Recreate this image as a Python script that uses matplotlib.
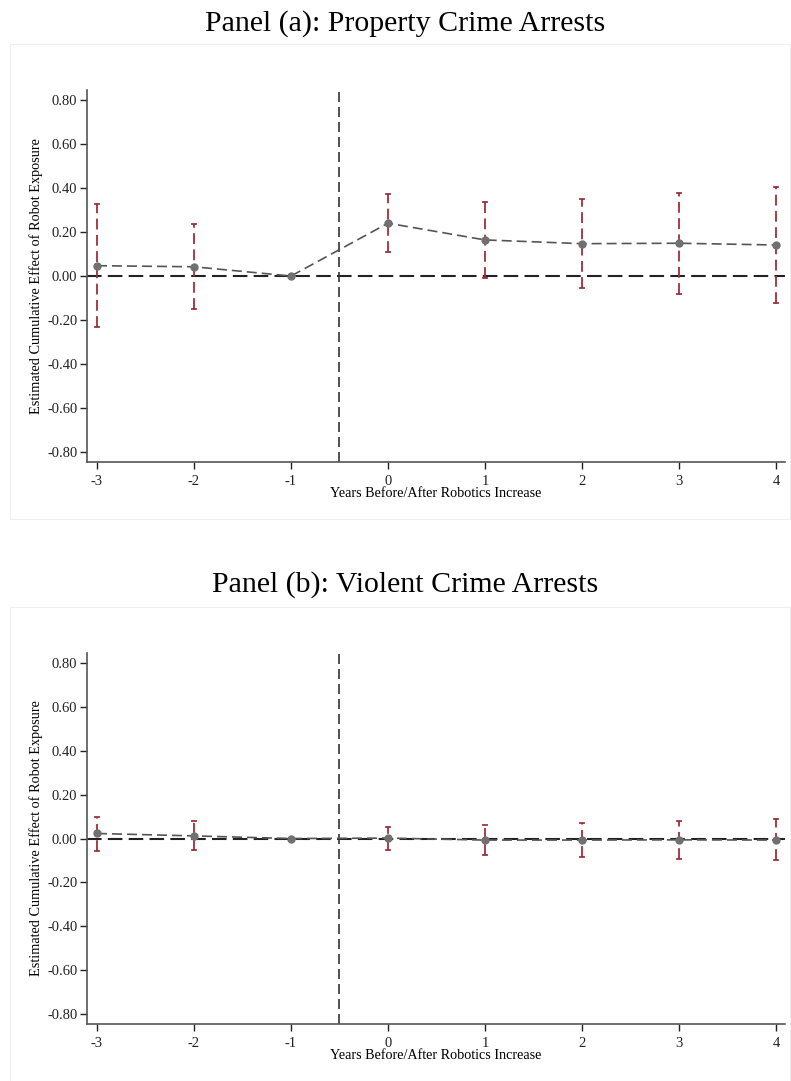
import matplotlib.pyplot as plt
from matplotlib.patches import Rectangle

# event time
years = [-3, -2, -1, 0, 1, 2, 3, 4]

# Panel (a): property crime arrests
prop_coef = [0.047, 0.042, 0.0, 0.240, 0.164, 0.147, 0.149, 0.141]
prop_lo = [-0.230, -0.150, 0.0, 0.108, -0.011, -0.053, -0.083, -0.121]
prop_hi = [0.326, 0.238, 0.0, 0.374, 0.338, 0.349, 0.379, 0.406]

# Panel (b): violent crime arrests
viol_coef = [0.023, 0.012, 0.0, 0.002, -0.007, -0.007, -0.006, -0.007]
viol_lo = [-0.059, -0.050, 0.0, -0.050, -0.074, -0.084, -0.092, -0.099]
viol_hi = [0.100, 0.078, 0.0, 0.052, 0.062, 0.070, 0.080, 0.090]

yticks = [0.8, 0.6, 0.4, 0.2, 0.0, -0.2, -0.4, -0.6, -0.8]

plt.rcParams['font.family'] = ['Liberation Serif', 'DejaVu Serif']

RED = '#9e2f3a'
GRAY = '#707070'
SPINE = '#555555'


def draw_panel(fig, rect, title, title_y, frame, coef, lo, hi):
    fig.patches.append(Rectangle(frame[:2], frame[2], frame[3], transform=fig.transFigure,
                                 fill=False, edgecolor='#eeeeee', linewidth=0.8))
    fig.text(0.512, title_y, title, ha='center', va='center', fontsize=21.5)

    ax = fig.add_axes(rect)
    for i, x in enumerate(years):
        if x == -1:
            continue
        ax.plot([x, x], [lo[i], hi[i]], color=RED, lw=1.3, dashes=(6, 3), zorder=3)
        ax.plot([x - 0.025, x + 0.025], [lo[i], lo[i]], color=RED, lw=1.3, zorder=3)
        ax.plot([x - 0.025, x + 0.025], [hi[i], hi[i]], color=RED, lw=1.3, zorder=3)

    ax.axhline(0, color='#222222', lw=1.5, dashes=(7, 3), zorder=2)
    ax.axvline(-0.5, color='#333333', lw=1.2, dashes=(6, 3), zorder=2)
    ax.plot(years, coef, color='#555555', lw=1.2, dashes=(6, 3), zorder=4,
            marker='o', markersize=5, markerfacecolor=GRAY, markeredgecolor=GRAY)

    ax.set_xlim(-3.103, 4.093)
    ax.set_ylim(-0.845, 0.845)
    ax.set_xticks(years)
    ax.set_xticklabels([str(x) for x in years])
    ax.set_yticks(yticks)
    ax.set_yticklabels([f'{v:.2f}' for v in yticks])
    ax.tick_params(axis='both', labelsize=10.5, colors='#222222', length=5, width=1,
                   direction='out')
    ax.tick_params(axis='x', pad=4)
    ax.tick_params(axis='y', pad=2)
    for side in ['top', 'right']:
        ax.spines[side].set_visible(False)
    for side in ['left', 'bottom']:
        ax.spines[side].set_color(SPINE)
        ax.spines[side].set_linewidth(1.2)

    ax.set_ylabel('Estimated Cumulative Effect of Robot Exposure', fontsize=10.3)
    ax.yaxis.set_label_coords(-0.063, 0.5)
    ax.set_xlabel('Years Before/After Robotics Increase', fontsize=10.2)
    ax.xaxis.set_label_coords(0.499, -0.068)


fig = plt.figure(figsize=(7.91, 10.81), dpi=100)

draw_panel(fig, [0.110, 0.5726, 0.8824, 0.3441], 'Panel (a): Property Crime Arrests', 0.978,
           (0.0126, 0.5199, 0.986, 0.4394), prop_coef, prop_lo, prop_hi)
draw_panel(fig, [0.110, 0.0527, 0.8824, 0.3432], 'Panel (b): Violent Crime Arrests', 0.459,
           (0.0126, 0.0, 0.986, 0.4385), viol_coef, viol_lo, viol_hi)

fig.savefig('out.png', dpi=100)
